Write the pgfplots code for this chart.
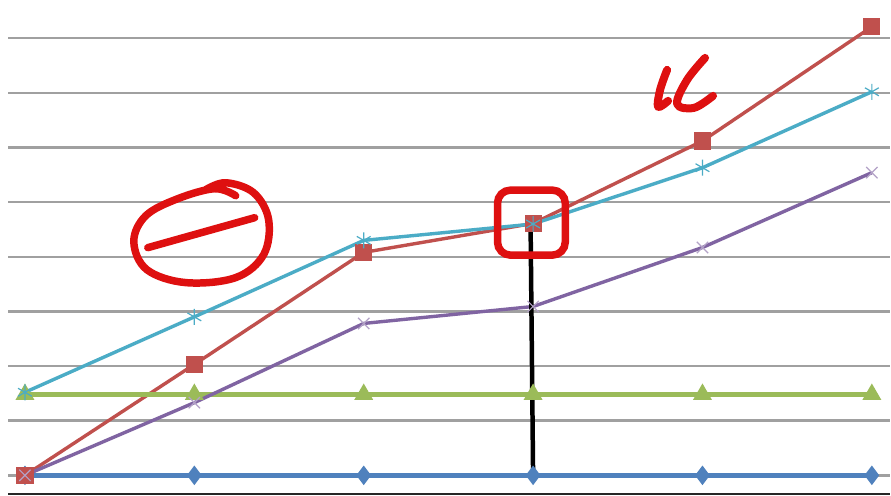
\documentclass[border=0pt]{standalone}
\usepackage{pgfplots}
\pgfplotsset{compat=1.18}
\definecolor{sblue}{RGB}{79,129,189}
\definecolor{sred}{RGB}{192,80,77}
\definecolor{sgreen}{RGB}{155,187,89}
\definecolor{spurple}{RGB}{128,100,162}
\definecolor{scyan}{RGB}{75,172,198}
\definecolor{gridg}{RGB}{160,160,160}
\definecolor{pen}{RGB}{222,16,16}
\begin{document}
\begin{tikzpicture}[x=1bp,y=1bp]
\fill[white] (0,0) rectangle (891,496);
\begin{axis}[at={(0,0)}, anchor=south west, scale only axis,
  width=891bp, height=496bp,
  xmin=-0.1474, xmax=5.106, ymin=-0.366, ymax=8.70,
  hide axis, clip=false]
\pgfplotsinvokeforeach{1,...,8}{\draw[gridg, line width=2.4bp] (axis cs:-0.1,#1) -- (axis cs:5.106,#1);}
\draw[gridg, line width=2.4bp] (axis cs:-0.1,0) -- (axis cs:5.106,0);
\draw[black!85, line width=2bp] (axis cs:-0.1,-0.335) -- (axis cs:5.106,-0.335);
% series 1
\addplot[sblue, line width=4.5bp, mark=diamond*, mark size=8bp, mark options={solid, line width=2.2bp}] coordinates {(0,0) (1,0) (2,0) (3,0) (4,0) (5,0)};
% series 2
\addplot[sred, line width=3.4bp, mark=square*, mark size=8bp, mark options={line width=1.2bp}] coordinates {(0,0) (1,2.03) (2,4.08) (3,4.61) (4,6.12) (5,8.21)};
% series 3
\addplot[sgreen, line width=4.5bp, mark=triangle*, mark size=9.5bp, mark options={line width=1.5bp}] coordinates {(0,1.48) (1,1.48) (2,1.48) (3,1.48) (4,1.48) (5,1.48)};
% series 4
\addplot[spurple, line width=3.4bp, mark=x, mark size=8bp, mark options={line width=1.2bp, spurple!60}] coordinates {(0,0) (1,1.33) (2,2.78) (3,3.09) (4,4.17) (5,5.54)};
% series 5
\addplot[scyan, line width=3.4bp, mark=asterisk, mark size=8bp, mark options={line width=1.2bp}] coordinates {(0,1.52) (1,2.9) (2,4.3) (3,4.6) (4,5.63) (5,7.02)};
% black vertical line
\draw[black, line width=4.5bp] (axis cs:2.985,4.62) -- (axis cs:3,0);
% red rounded box
\draw[pen, line width=7.5bp, rounded corners=13bp] (axis cs:2.79,5.22) rectangle (axis cs:3.19,4.03);
\end{axis}
% hand-drawn circle
\draw[pen, line width=7.5bp, line cap=round, line join=round]
  plot[smooth, tension=0.6] coordinates {(236,{496-196}) (215,{496-189}) (178,{496-199}) (146,{496-216}) (134,{496-242}) (147,{496-270}) (186,{496-283}) (236,{496-278}) (264,{496-255}) (269,{496-220}) (254,{496-193}) (226,{496-183}) (206,{496-190})};
\draw[pen, line width=7.5bp, line cap=round] (148,{496-248}) -- (255,{496-218});
% k scribble
\draw[pen, line width=8bp, line cap=round, line join=round]
  plot[smooth, tension=0.6] coordinates {(668,{496-70}) (661,{496-90}) (659,{496-107}) (669,{496-101})};
\draw[pen, line width=8bp, line cap=round, line join=round]
  plot[smooth, tension=0.6] coordinates {(706,{496-58}) (688,{496-80}) (678,{496-104}) (695,{496-108}) (714,{496-96})};
\end{tikzpicture}
\end{document}
